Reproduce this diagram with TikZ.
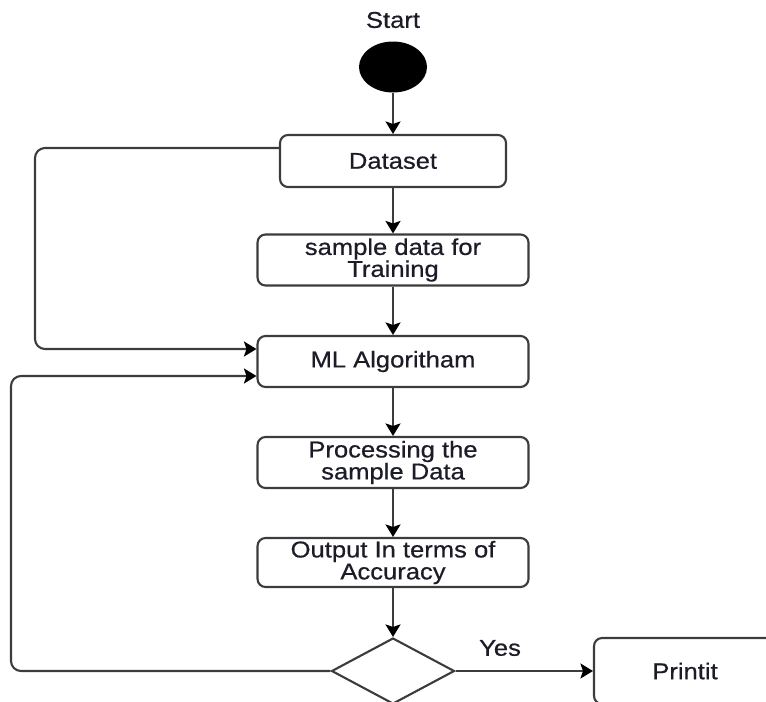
\documentclass[tikz,border=0pt]{standalone}
\usepackage{fontspec}
\setmainfont{Liberation Sans}[FakeStretch=1.12, FakeBold=0.6]
\usetikzlibrary{shapes.geometric}
\usetikzlibrary{arrows.meta}
\usepackage{xcolor}
\definecolor{edgegray}{HTML}{3c3c3c}
\definecolor{textdark}{HTML}{1c1c28}

\begin{document}
\begin{tikzpicture}[x=0.02cm, y=0.02cm,
  font=\fontsize{13}{12.5}\selectfont, text=textdark,
  box/.style={draw=edgegray, line width=1.2pt, rounded corners=0.16cm, align=center, minimum width=5.42cm, minimum height=1.02cm, inner sep=0pt},
  link/.style={edgegray, line width=1.2pt, ->, >={Stealth[length=0.25cm, width=0.3cm, inset=0.05cm, color=black]}}]
\useasboundingbox (0,0) rectangle (766,701);
\node (start) at (393,681) {Start};
\node[ellipse, fill=black, minimum width=1.36cm, minimum height=1.02cm, inner sep=0] (init) at (393,634) {};
\node[box, minimum width=4.52cm, minimum height=1.04cm] (dataset) at (393,540) {Dataset};
\node[box] (sample) at (393,441) {sample data for\\Training};
\node[box] (ml) at (393,339.5) {ML Algoritham};
\node[box] (proc) at (393,238.5) {Processing the\\sample Data};
\node[box, minimum height=0.98cm] (output) at (393,138.5) {Output In terms of\\Accuracy};
\node[diamond, draw=edgegray, line width=1.2pt, aspect=1.86, minimum width=2.46cm, minimum height=1.32cm, inner sep=0] (check) at (393,30) {};
\node[box, minimum width=3.64cm, minimum height=1.32cm] (print) at (685,30) {Printit};
\node (yes) at (500,53) {Yes};

\draw[link] (init) -- (dataset);
\draw[link] (dataset) -- (sample);
\draw[link] (sample) -- (ml);
\draw[link] (ml) -- (proc);
\draw[link] (proc) -- (output);
\draw[link] (output) -- (check);
\draw[link] (check) -- (print);
% loops back to the algorithm
\draw[link, rounded corners=0.2cm] ([yshift=0.26cm]dataset.west) -| (35,352) -- ([yshift=0.25cm]ml.west);
\draw[link, rounded corners=0.2cm] (check.west) -| (11,325) -- ([yshift=-0.29cm]ml.west);
\end{tikzpicture}
\end{document}
